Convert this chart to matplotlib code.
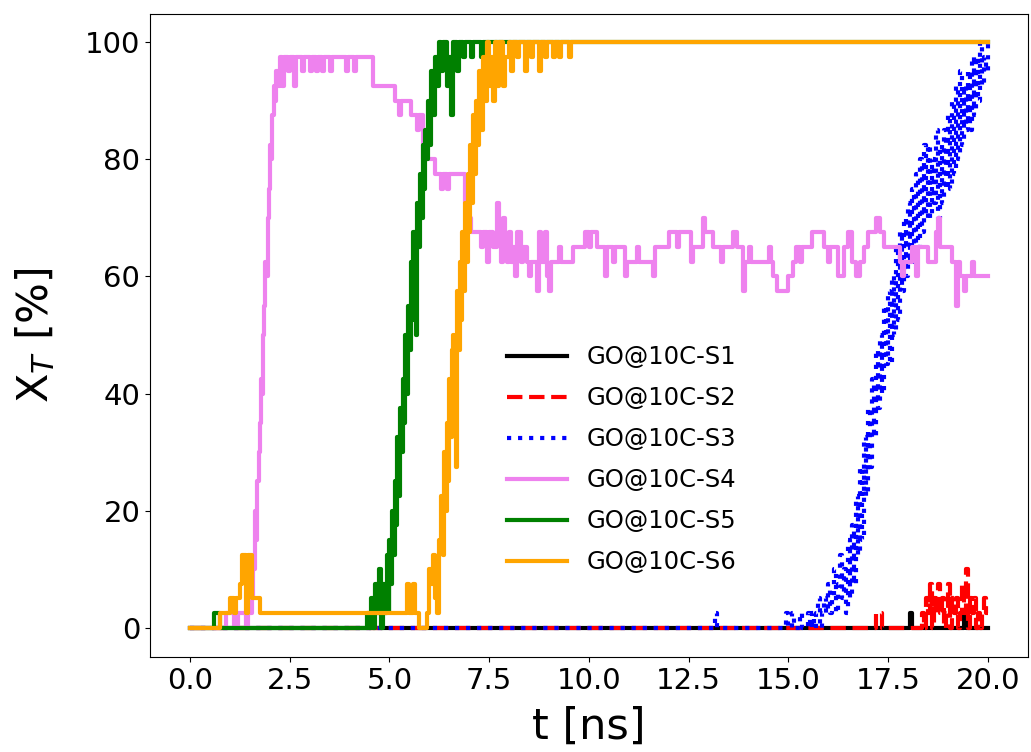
import matplotlib
matplotlib.use("Agg")
import matplotlib.pyplot as plt

# ---- data (t in ns, X_T in %) ----
s1_t = [0.0, 18.05, 18.1, 19.4, 19.45, 20.0]
s1_v = [0.0, 2.5, 0.0, 2.5, 0.0, 0.0]

s2_t = [0.0, 17.2, 17.35, 18.35, 18.4, 18.45, 18.5, 18.55, 18.6, 18.65, 18.7, 18.75,
        18.8, 18.85, 18.9, 18.95, 19.0, 19.05, 19.1, 19.15, 19.2, 19.25, 19.3, 19.35,
        19.4, 19.45, 19.5, 19.55, 19.6, 19.65, 19.7, 19.75, 19.8, 19.85, 19.9, 19.95, 20.0]
s2_v = [0.0, 2.5, 0.0, 2.5, 0.0, 5.0, 2.5, 7.5, 0.0, 5.0, 2.5, 7.5,
        2.5, 5.0, 0.0, 2.5, 7.5, 0.0, 5.0, 2.5, 5.0, 0.0, 2.5, 7.5,
        2.5, 10.0, 0.0, 5.0, 2.5, 5.0, 0.0, 2.5, 0.0, 2.5, 5.0, 2.5, 2.5]

s3_t = [0.0, 13.15, 13.2, 14.95, 15.0, 15.1, 15.15, 15.3, 15.35,
        15.5, 15.55, 15.6, 15.65, 15.7, 15.75, 15.8, 15.85, 15.9, 15.95,
        16.0, 16.05, 16.1, 16.15, 16.2, 16.25, 16.3, 16.35, 16.4, 16.45,
        16.5, 16.55, 16.6, 16.65, 16.7, 16.75, 16.8, 16.85, 16.9, 16.95,
        17.0, 17.05, 17.1, 17.15, 17.2, 17.25, 17.3, 17.35, 17.4, 17.45,
        17.5, 17.55, 17.6, 17.65, 17.7, 17.75, 17.8, 17.85, 17.9, 17.95,
        18.0, 18.05, 18.1, 18.15, 18.2, 18.25, 18.3, 18.35, 18.4, 18.45,
        18.5, 18.55, 18.6, 18.65, 18.7, 18.75, 18.8, 18.85, 18.9, 18.95,
        19.0, 19.05, 19.1, 19.15, 19.2, 19.25, 19.3, 19.35, 19.4, 19.45,
        19.5, 19.55, 19.6, 19.65, 19.7, 19.75, 19.8, 19.85, 19.9, 19.95, 20.0]
s3_v = [0.0, 2.5, 0.0, 2.5, 0.0, 2.5, 0.0, 2.5, 0.0,
        2.5, 0.0, 2.5, 0.0, 2.5, 5.0, 0.0, 2.5, 5.0, 2.5,
        7.5, 2.5, 5.0, 10.0, 2.5, 7.5, 12.5, 5.0, 10.0, 2.5,
        15.0, 5.0, 17.5, 7.5, 22.5, 12.5, 27.5, 15.0, 32.5, 22.5,
        37.5, 27.5, 42.5, 32.5, 47.5, 37.5, 50.0, 40.0, 55.0, 45.0,
        57.5, 45.0, 60.0, 50.0, 65.0, 52.5, 67.5, 57.5, 70.0, 60.0,
        72.5, 62.5, 75.0, 62.5, 77.5, 65.0, 80.0, 67.5, 82.5, 70.0,
        82.5, 70.0, 80.0, 72.5, 85.0, 70.0, 82.5, 72.5, 85.0, 75.0,
        87.5, 75.0, 90.0, 77.5, 92.5, 80.0, 95.0, 82.5, 92.5, 85.0,
        95.0, 85.0, 97.5, 87.5, 97.5, 90.0, 100.0, 92.5, 97.5, 95.0, 100.0]

s4_t = [0.0, 0.9, 1.1, 1.2, 1.4, 1.45, 1.55, 1.58, 1.62, 1.65, 1.68, 1.72, 1.75,
        1.78, 1.8, 1.83, 1.86, 1.89, 1.92, 1.95, 1.98, 2.0, 2.03, 2.06, 2.1, 2.13,
        2.16, 2.2, 2.25, 2.3, 2.35, 2.45, 2.5, 2.6, 2.65, 2.8, 2.85, 3.0, 3.05, 3.15,
        3.2, 3.3, 3.35, 3.5, 3.55, 3.9, 3.95, 4.1, 4.15, 4.58, 5.15, 5.25, 5.3, 5.55,
        5.7, 5.75, 5.85, 5.9, 5.95, 6.15, 6.3, 6.35, 6.45, 6.5, 6.9, 6.95, 7.0, 7.05,
        7.3, 7.35, 7.45, 7.5, 7.6, 7.7, 7.75, 7.8, 7.85, 7.9, 7.95, 8.0, 8.05, 8.1,
        8.15, 8.2, 8.3, 8.35, 8.45, 8.5, 8.55, 8.7, 8.75, 8.8, 8.9, 8.95, 9.0, 9.05,
        9.25, 9.3, 9.6, 9.9, 10.0, 10.05, 10.2, 10.4, 10.45, 10.6, 10.65, 10.9, 10.95,
        11.2, 11.25, 11.6, 11.65, 12.0, 12.2, 12.25, 12.55, 12.6, 12.85, 12.9, 13.1,
        13.3, 13.35, 13.6, 13.7, 13.85, 13.9, 14.0, 14.05, 14.5, 14.55, 14.6, 14.7,
        15.0, 15.12, 15.2, 15.3, 15.35, 15.6, 15.9, 16.0, 16.05, 16.25, 16.4, 16.5,
        16.6, 16.7, 16.8, 16.9, 17.0, 17.2, 17.3, 17.4, 17.8, 17.85, 17.9, 18.1, 18.2,
        18.25, 18.5, 18.7, 18.75, 18.8, 19.1, 19.2, 19.25, 19.3, 19.4, 19.45, 19.6,
        19.65, 20.0]
s4_v = [0.0, 2.5, 0.0, 2.5, 0.0, 2.5, 5.0, 10.0, 20.0, 15.0, 25.0, 30.0, 35.0,
        42.5, 40.0, 50.0, 55.0, 62.5, 60.0, 70.0, 75.0, 82.5, 80.0, 87.5, 92.5, 90.0,
        95.0, 92.5, 97.5, 92.5, 97.5, 95.0, 97.5, 92.5, 97.5, 95.0, 97.5, 95.0, 97.5, 95.0,
        97.5, 95.0, 97.5, 95.0, 97.5, 95.0, 97.5, 95.0, 97.5, 92.5, 90.0, 87.5, 90.0, 87.5,
        85.0, 87.5, 80.0, 82.5, 80.0, 77.5, 75.0, 77.5, 75.0, 77.5, 72.5, 67.5, 70.0, 67.5,
        65.0, 67.5, 62.5, 67.5, 65.0, 72.5, 67.5, 62.5, 70.0, 65.0, 62.5, 67.5, 62.5, 65.0,
        60.0, 67.5, 62.5, 65.0, 62.5, 60.0, 62.5, 57.5, 67.5, 62.5, 67.5, 60.0, 57.5, 62.5,
        65.0, 62.5, 65.0, 67.5, 65.0, 67.5, 65.0, 60.0, 65.0, 62.5, 65.0, 60.0, 62.5,
        65.0, 62.5, 60.0, 65.0, 67.5, 65.0, 67.5, 62.5, 65.0, 70.0, 67.5, 65.0,
        62.5, 65.0, 67.5, 65.0, 57.5, 62.5, 65.0, 62.5, 65.0, 62.5, 60.0, 57.5,
        60.0, 62.5, 65.0, 62.5, 65.0, 67.5, 65.0, 62.5, 65.0, 60.0, 65.0, 67.5,
        62.5, 60.0, 62.5, 65.0, 67.5, 70.0, 67.5, 65.0, 62.5, 60.0, 62.5, 65.0, 60.0,
        65.0, 62.5, 67.5, 70.0, 65.0, 62.5, 55.0, 62.5, 60.0, 57.5, 60.0, 62.5,
        60.0, 60.0]

s5_t = [0.0, 0.6, 0.75, 4.45, 4.5, 4.55, 4.6, 4.65, 4.7, 4.75, 4.8, 4.85, 4.9, 4.95,
        4.98, 5.0, 5.03, 5.06, 5.1, 5.13, 5.16, 5.2, 5.23, 5.26, 5.3, 5.33, 5.36, 5.4,
        5.43, 5.46, 5.5, 5.53, 5.56, 5.6, 5.63, 5.66, 5.7, 5.73, 5.76, 5.8, 5.83, 5.86,
        5.9, 5.93, 5.96, 6.0, 6.05, 6.1, 6.15, 6.2, 6.25, 6.3, 6.35, 6.45, 6.5, 6.55,
        6.6, 6.7, 6.75, 6.85, 6.9, 7.05, 7.1, 7.3, 7.35, 20.0]
s5_v = [0.0, 2.5, 0.0, 2.5, 0.0, 5.0, 0.0, 7.5, 2.5, 10.0, 0.0, 7.5, 2.5, 12.5,
        2.5, 15.0, 7.5, 20.0, 12.5, 25.0, 17.5, 32.5, 22.5, 37.5, 30.0, 42.5, 35.0, 50.0,
        40.0, 55.0, 47.5, 62.5, 52.5, 67.5, 57.5, 50.0, 72.5, 65.0, 77.5, 70.0, 82.5, 75.0,
        85.0, 80.0, 90.0, 82.5, 95.0, 87.5, 97.5, 92.5, 100.0, 95.0, 100.0, 92.5, 97.5, 87.5,
        100.0, 95.0, 100.0, 97.5, 100.0, 97.5, 100.0, 97.5, 100.0, 100.0]

s6_t = [0.0, 0.75, 1.0, 1.1, 1.15, 1.25, 1.3, 1.4, 1.45, 1.55, 1.75, 5.45, 5.5, 5.6,
        5.65, 5.75, 5.95, 6.0, 6.05, 6.1, 6.15, 6.2, 6.25, 6.3, 6.33, 6.36, 6.4, 6.43,
        6.46, 6.5, 6.53, 6.56, 6.6, 6.63, 6.66, 6.7, 6.73, 6.76, 6.8, 6.83, 6.86, 6.9,
        6.93, 6.96, 7.0, 7.03, 7.06, 7.1, 7.13, 7.16, 7.2, 7.25, 7.3, 7.35, 7.4, 7.45,
        7.5, 7.55, 7.6, 7.65, 7.7, 7.75, 7.85, 7.9, 8.0, 8.05, 8.1, 8.2, 8.25, 8.4,
        8.45, 8.55, 8.6, 8.75, 8.8, 8.9, 8.95, 9.1, 9.15, 9.25, 9.3, 9.5, 9.55, 20.0]
s6_v = [0.0, 2.5, 5.0, 2.5, 5.0, 7.5, 12.5, 2.5, 12.5, 5.0, 2.5, 7.5, 2.5, 7.5,
        2.5, 0.0, 2.5, 10.0, 7.5, 12.5, 5.0, 2.5, 15.0, 22.5, 12.5, 30.0, 20.0, 35.0,
        25.0, 42.5, 32.5, 47.5, 50.0, 40.0, 27.5, 57.5, 47.5, 62.5, 52.5, 67.5, 57.5, 72.5,
        62.5, 77.5, 67.5, 82.5, 72.5, 87.5, 77.5, 90.0, 82.5, 95.0, 85.0, 97.5, 90.0, 100.0,
        92.5, 97.5, 90.0, 100.0, 92.5, 100.0, 92.5, 97.5, 100.0, 95.0, 100.0, 97.5, 100.0, 95.0,
        100.0, 97.5, 100.0, 95.0, 100.0, 97.5, 100.0, 97.5, 100.0, 97.5, 100.0, 97.5, 100.0, 100.0]

labels = ['GO@10C-S1', 'GO@10C-S2', 'GO@10C-S3', 'GO@10C-S4', 'GO@10C-S5', 'GO@10C-S6']
colors = ['black', 'red', 'blue', 'violet', 'green', 'orange']
styles = ['-', '--', ':', '-', '-', '-']

series = [(s1_t, s1_v), (s2_t, s2_v), (s3_t, s3_v), (s4_t, s4_v), (s5_t, s5_v), (s6_t, s6_v)]

fig = plt.figure(figsize=(10.31, 7.52), dpi=100)
ax = fig.add_axes([0.1455, 0.1263, 0.8515, 0.855])

for (t, v), lab, c, ls in zip(series, labels, colors, styles):
    ax.plot(t, v, color=c, linestyle=ls, linewidth=3, label=lab, drawstyle='steps-post')

ax.set_xlim(-1.0, 21.0)
ax.set_ylim(-5, 104.8)
ax.set_xticks([0, 2.5, 5, 7.5, 10, 12.5, 15, 17.5, 20])
ax.set_xticklabels(['0.0', '2.5', '5.0', '7.5', '10.0', '12.5', '15.0', '17.5', '20.0'])
ax.tick_params(labelsize=21)
ax.set_xlabel('t [ns]', fontsize=31, labelpad=8)
ax.set_ylabel(r'X$_T$ [%]', fontsize=31, labelpad=20)

ax.legend(loc='upper left', bbox_to_anchor=(0.395, 0.5), borderaxespad=0, frameon=False,
          fontsize=17.5, handlelength=2.47, handletextpad=0.82, labelspacing=0.7)

fig.savefig('out.png', dpi=100)
